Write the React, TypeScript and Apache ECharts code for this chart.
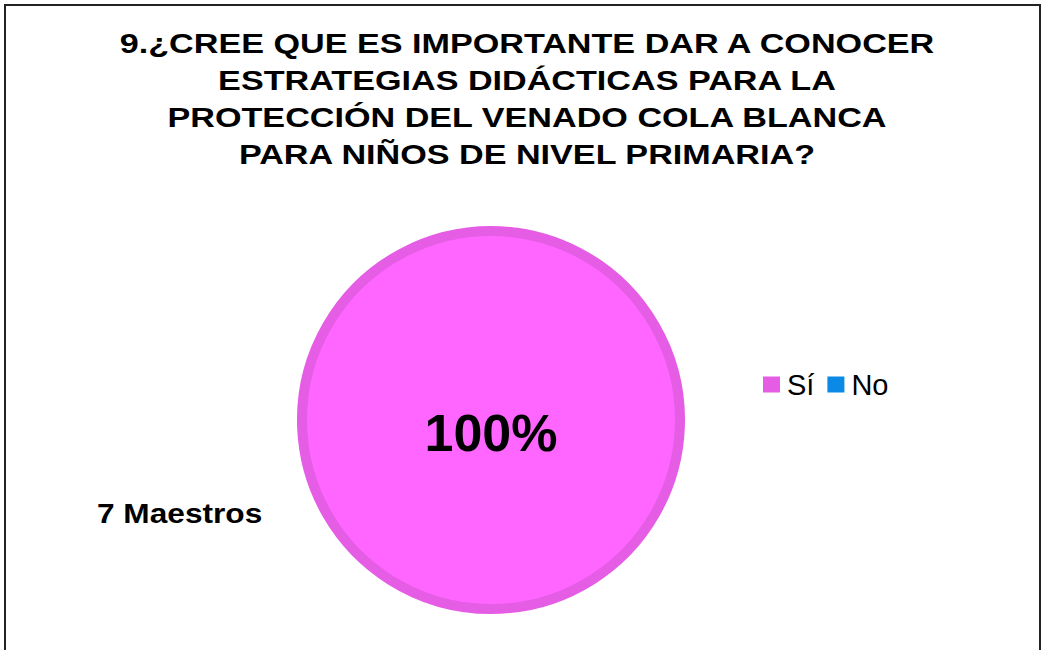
import React, { useEffect, useRef } from "react";
import * as echarts from "echarts";

const titleLines = [
  "9.¿CREE QUE ES IMPORTANTE DAR A CONOCER",
  "ESTRATEGIAS DIDÁCTICAS PARA LA",
  "PROTECCIÓN DEL VENADO COLA BLANCA",
  "PARA NIÑOS DE NIVEL PRIMARIA?",
];
const categories = ["Sí", "No"];
const values = [7, 0];
const colors = ["#FF66FF", "#0A8AE6"];
const legendColors = ["#E55CE5", "#0A8AE6"];
const respondentLabel = "Maestros";

const FONT = "Liberation Sans, Arial, sans-serif";

export default function App() {
  const ref = useRef<HTMLDivElement>(null);
  useEffect(() => {
    if (!ref.current) return;
    const chart = echarts.init(ref.current, null, { renderer: "svg" });
    const total = values.reduce((a, b) => a + b, 0);
    const pct = `${Math.round((values[0] / total) * 100)}%`;
    const titleTexts = titleLines.map((line, i) => ({
      type: "text",
      x: 527,
      y: 30 + i * 37,
      scaleX: 1.22,
      style: {
        text: line,
        align: "center",
        verticalAlign: "top",
        fontFamily: FONT,
        fontWeight: "bold",
        fontSize: 28,
        fill: "#000",
      },
    }));
    chart.setOption({
      animation: false,
      backgroundColor: "#ffffff",
      legend: {
        left: 758,
        top: 365,
        icon: "rect",
        itemWidth: 17,
        itemHeight: 16,
        itemGap: 13,
        textStyle: {
          fontFamily: FONT,
          fontSize: 29,
          color: "#000",
          padding: [0, 0, 0, 2],
        },
        data: categories.map((c, i) => ({
          name: c,
          itemStyle: { color: legendColors[i], borderWidth: 0 },
        })),
      },
      graphic: [
        {
          type: "rect",
          shape: { x: 5, y: 5, width: 1035, height: 700 },
          style: { fill: "none", stroke: "#222", lineWidth: 2 },
          silent: true,
        },
        ...titleTexts,
        {
          type: "text",
          x: 97,
          y: 499,
          scaleX: 1.13,
          style: {
            text: `${total} ${respondentLabel}`,
            verticalAlign: "top",
            fontFamily: FONT,
            fontWeight: "bold",
            fontSize: 28,
            fill: "#000",
          },
        },
        {
          type: "text",
          x: 491,
          y: 433,
          z: 100,
          style: {
            text: pct,
            align: "center",
            verticalAlign: "middle",
            fontFamily: FONT,
            fontWeight: "bold",
            fontSize: 52,
            fill: "#000",
          },
        },
      ],
      series: [
        {
          type: "pie",
          center: [491, 420],
          radius: 189,
          startAngle: 90,
          avoidLabelOverlap: false,
          label: { show: false },
          labelLine: { show: false },
          data: categories.map((c, i) => ({
            name: c,
            value: values[i],
            itemStyle: {
              color: colors[i],
              borderColor: i === 0 ? "#E55CE5" : colors[i],
              borderWidth: values[i] > 0 ? 10 : 0,
            },
          })),
        },
      ],
    });
    return () => chart.dispose();
  }, []);
  return (
    <div
      ref={ref}
      style={{ position: "fixed", left: 0, top: 0, width: 1043, height: 650 }}
    />
  );
}
